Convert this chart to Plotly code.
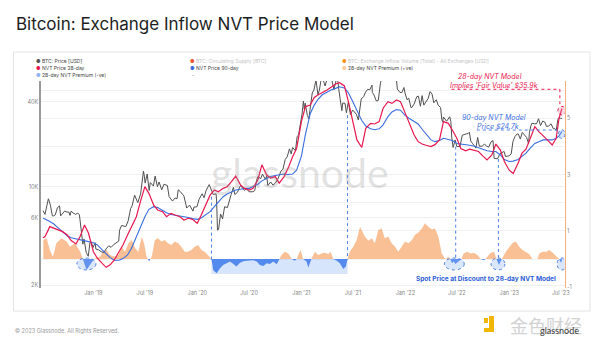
import plotly.graph_objects as go

# ---------------- data ----------------
price_dates = [
    "2018-07-08", "2018-07-15", "2018-07-22", "2018-07-27", "2018-08-03", "2018-08-10", "2018-08-14", "2018-08-20",
    "2018-08-28", "2018-09-04", "2018-09-08", "2018-09-15", "2018-09-22", "2018-09-30", "2018-10-07", "2018-10-11",
    "2018-10-15", "2018-10-22", "2018-10-31", "2018-11-07", "2018-11-13", "2018-11-16", "2018-11-20", "2018-11-25",
    "2018-11-29", "2018-12-07", "2018-12-14", "2018-12-20", "2018-12-24", "2018-12-31",
    "2019-01-07", "2019-01-10", "2019-01-20", "2019-01-28", "2019-02-07", "2019-02-14", "2019-02-24", "2019-03-04",
    "2019-03-15", "2019-03-31", "2019-04-03", "2019-04-10", "2019-04-25", "2019-05-03", "2019-05-12", "2019-05-17",
    "2019-05-26", "2019-06-06", "2019-06-16", "2019-06-22", "2019-06-26", "2019-06-29", "2019-07-02", "2019-07-09",
    "2019-07-16", "2019-07-20", "2019-07-31", "2019-08-06", "2019-08-14", "2019-08-20", "2019-08-29", "2019-09-06",
    "2019-09-18", "2019-09-24", "2019-10-06", "2019-10-15", "2019-10-22", "2019-10-26", "2019-11-03", "2019-11-15",
    "2019-11-22", "2019-11-25", "2019-12-05", "2019-12-17", "2019-12-20", "2019-12-31",
    "2020-01-07", "2020-01-18", "2020-01-25", "2020-02-01", "2020-02-12", "2020-02-19", "2020-02-26", "2020-03-07",
    "2020-03-09", "2020-03-12", "2020-03-16", "2020-03-23", "2020-03-30", "2020-04-06", "2020-04-16", "2020-04-29",
    "2020-05-07", "2020-05-12", "2020-05-21", "2020-06-01", "2020-06-15", "2020-06-22", "2020-07-01", "2020-07-15",
    "2020-07-21", "2020-07-27", "2020-08-01", "2020-08-11", "2020-08-17", "2020-08-27", "2020-09-01", "2020-09-05",
    "2020-09-15", "2020-09-23", "2020-10-01", "2020-10-10", "2020-10-21", "2020-10-28", "2020-11-05", "2020-11-12",
    "2020-11-20", "2020-11-26", "2020-12-01", "2020-12-11", "2020-12-17", "2020-12-22", "2020-12-27", "2020-12-31",
    "2021-01-03", "2021-01-08", "2021-01-11", "2021-01-14", "2021-01-22", "2021-01-27", "2021-02-03", "2021-02-08",
    "2021-02-14", "2021-02-21", "2021-02-28", "2021-03-05", "2021-03-13", "2021-03-18", "2021-03-25", "2021-04-02",
    "2021-04-13", "2021-04-18", "2021-04-25", "2021-05-03", "2021-05-08", "2021-05-12", "2021-05-19", "2021-05-23",
    "2021-05-26", "2021-06-03", "2021-06-08", "2021-06-15", "2021-06-22", "2021-06-30", "2021-07-06", "2021-07-13",
    "2021-07-20", "2021-07-26", "2021-07-30", "2021-08-08", "2021-08-14", "2021-08-22", "2021-08-29", "2021-09-06",
    "2021-09-07", "2021-09-13", "2021-09-21", "2021-09-28", "2021-10-06", "2021-10-15", "2021-10-20", "2021-10-27",
    "2021-11-02", "2021-11-08", "2021-11-10", "2021-11-16", "2021-11-18", "2021-11-24", "2021-12-01", "2021-12-04",
    "2021-12-13", "2021-12-20", "2021-12-27", "2021-12-31",
    "2022-01-07", "2022-01-13", "2022-01-21", "2022-01-24", "2022-02-01", "2022-02-10", "2022-02-16", "2022-02-23",
    "2022-03-01", "2022-03-07", "2022-03-14", "2022-03-22", "2022-03-29", "2022-04-05", "2022-04-11", "2022-04-20",
    "2022-04-26", "2022-05-05", "2022-05-09", "2022-05-12", "2022-05-15", "2022-05-26", "2022-06-06", "2022-06-10",
    "2022-06-13", "2022-06-18", "2022-06-25", "2022-07-01", "2022-07-12", "2022-07-20", "2022-07-30", "2022-08-10",
    "2022-08-14", "2022-08-19", "2022-08-26", "2022-09-06", "2022-09-12", "2022-09-18", "2022-09-28", "2022-10-06",
    "2022-10-13", "2022-10-21", "2022-10-29", "2022-11-05", "2022-11-09", "2022-11-21", "2022-11-30", "2022-12-14",
    "2022-12-19", "2022-12-31",
    "2023-01-08", "2023-01-14", "2023-01-21", "2023-01-29", "2023-02-02", "2023-02-09", "2023-02-16", "2023-02-24",
    "2023-03-03", "2023-03-10", "2023-03-13", "2023-03-18", "2023-03-22", "2023-03-30", "2023-04-07", "2023-04-14",
    "2023-04-21", "2023-04-29", "2023-05-06", "2023-05-12", "2023-05-20", "2023-05-28", "2023-06-05", "2023-06-10",
    "2023-06-15", "2023-06-21", "2023-06-23", "2023-07-01", "2023-07-05",
]
price_usd = [
    6750, 6350, 7400, 8200, 7400, 6200, 6200, 6300,
    7100, 7300, 6200, 6500, 6700, 6600, 6600, 6250,
    6700, 6500, 6350, 6500, 6300, 5600, 4500, 3900,
    4250, 3400, 3200, 4000, 4050, 3700,
    4000, 3600, 3550, 3450, 3400, 3600, 3800, 3700,
    3900, 4100, 4900, 5300, 5200, 5700, 7000, 7300,
    8700, 7700, 8900, 10700, 12900, 11900, 10600, 12300,
    9400, 10700, 10100, 11900, 10000, 10800, 9500, 10400,
    10200, 8500, 7900, 8300, 8200, 9500, 9200, 8600,
    7300, 7050, 7400, 6700, 7150, 7200,
    8100, 8900, 8350, 9400, 10350, 9600, 8800, 8900,
    7900, 4900, 5000, 6400, 5900, 7200, 7100, 8800,
    9900, 8800, 9100, 10200, 9400, 9700, 9200, 9200,
    9400, 11000, 11800, 11400, 12300, 11300, 11900, 10200,
    10800, 10250, 10600, 11300, 12900, 13300, 15600, 16300,
    18600, 17100, 19000, 18000, 22800, 23300, 26300, 29000,
    32800, 40600, 35500, 39200, 32000, 30400, 37600, 46400,
    48700, 57500, 45200, 48500, 61200, 58000, 52000, 59000,
    63500, 56200, 49000, 57000, 58800, 49500, 37000, 34700,
    39300, 39200, 33500, 40200, 32500, 35000, 34000, 32700,
    29800, 37300, 42000, 43800, 47000, 49300, 48800, 52700,
    46800, 44900, 40700, 41000, 55300, 61600, 65900, 58400,
    63200, 67500, 65000, 60300, 56900, 57100, 57200, 49400,
    46800, 46700, 50700, 46300,
    41500, 42600, 36400, 36600, 38700, 43600, 44000, 37300,
    44400, 38000, 39600, 42300, 47400, 45500, 39500, 41500,
    38100, 36500, 30100, 28900, 31300, 29200, 31400, 29000,
    22500, 19000, 21500, 19300, 19300, 23200, 23600, 23900,
    24400, 21100, 20200, 18800, 22400, 19400, 19400, 20100,
    19400, 19100, 20800, 21300, 15900, 15800, 17200, 17800,
    16400, 16550,
    17100, 20900, 22700, 23700, 23700, 21800, 24300, 23200,
    22400, 20200, 24200, 27000, 28300, 28000, 28000, 30400,
    27200, 29300, 28800, 26800, 27000, 28000, 25800, 25900,
    25100, 30000, 30700, 30600, 30500,
]

# semi-monthly sampling of the two NVT price models
nvt_dates = [
    "2018-07-08", "2018-07-15", "2018-08-01", "2018-08-15", "2018-09-01", "2018-09-15",
    "2018-10-01", "2018-10-15", "2018-11-01", "2018-11-15", "2018-12-01", "2018-12-15",
    "2019-01-01", "2019-01-15", "2019-02-01", "2019-02-15", "2019-03-01", "2019-03-15",
    "2019-04-01", "2019-04-15", "2019-05-01", "2019-05-15", "2019-06-01", "2019-06-15",
    "2019-07-01", "2019-07-15", "2019-08-01", "2019-08-15", "2019-09-01", "2019-09-15",
    "2019-10-01", "2019-10-15", "2019-11-01", "2019-11-15", "2019-12-01", "2019-12-15",
    "2020-01-01", "2020-01-15", "2020-02-01", "2020-02-15", "2020-03-01", "2020-03-15",
    "2020-04-01", "2020-04-15", "2020-05-01", "2020-05-15", "2020-06-01", "2020-06-15",
    "2020-07-01", "2020-07-15", "2020-08-01", "2020-08-15", "2020-09-01", "2020-09-15",
    "2020-10-01", "2020-10-15", "2020-11-01", "2020-11-15", "2020-12-01", "2020-12-15",
    "2021-01-01", "2021-01-15", "2021-02-01", "2021-02-15", "2021-03-01", "2021-03-15",
    "2021-04-01", "2021-04-15", "2021-05-01", "2021-05-15", "2021-06-01", "2021-06-15",
    "2021-07-01", "2021-07-15", "2021-08-01", "2021-08-15", "2021-09-01", "2021-09-15",
    "2021-10-01", "2021-10-15", "2021-11-01", "2021-11-15", "2021-12-01", "2021-12-15",
    "2022-01-01", "2022-01-15", "2022-02-01", "2022-02-15", "2022-03-01", "2022-03-15",
    "2022-04-01", "2022-04-15", "2022-05-01", "2022-05-15", "2022-06-01", "2022-06-15",
    "2022-07-01", "2022-07-15", "2022-08-01", "2022-08-15", "2022-09-01", "2022-09-15",
    "2022-10-01", "2022-10-15", "2022-11-01", "2022-11-15", "2022-12-01", "2022-12-15",
    "2023-01-01", "2023-01-15", "2023-02-01", "2023-02-15", "2023-03-01", "2023-03-15",
    "2023-04-01", "2023-04-15", "2023-05-01", "2023-05-15", "2023-06-01", "2023-06-15",
    "2023-06-25", "2023-07-05",
]
nvt28_usd = [
    4340, 4410, 5200, 5060, 4920, 4790,
    4530, 4140, 3920, 4410, 5340, 4660,
    3450, 3100, 2850, 2670, 2780, 3000,
    3450, 3850, 4530, 5200, 6120, 7800,
    10000, 8970, 7400, 6830, 6640, 6120,
    6460, 6290, 6120, 5800, 5960, 5860,
    5490, 6290, 7400, 8700, 9470, 9200,
    9730, 10000, 10900, 11900, 10300, 9730,
    9470, 9730, 11200, 14300, 12100, 11500,
    11800, 10600, 11800, 13500, 16300, 18700,
    29000, 37100, 38100, 43100, 45100, 46600,
    48700, 50900, 53700, 54900, 52000, 40200,
    29000, 21500, 19000, 26000, 28200, 27900,
    29000, 36100, 40200, 39100, 41300, 40200,
    33200, 28200, 23300, 20900, 20100, 19700,
    19300, 19900, 21500, 29000, 28200, 25300,
    22100, 18700, 18000, 18500, 18000, 17800,
    16500, 15500, 16800, 20100, 18200, 15100,
    13100, 12400, 14700, 17300, 18500, 22100,
    26700, 24600, 22700, 21500, 19800, 22100,
    30600, 35900,
]
nvt90_usd = [
    5960, 5900, 5650, 5430, 5060, 4790,
    4480, 4340, 4250, 4180, 4120, 4070,
    4000, 3850, 3550, 3320, 3130, 3000,
    3000, 3080, 3270, 3650, 4410, 5200,
    6120, 6900, 7210, 7100, 6750, 6530,
    6350, 6290, 6220, 6120, 6030, 5930,
    5860, 5990, 6290, 6640, 7210, 7800,
    8490, 8870, 9210, 9470, 9600, 9730,
    9730, 10000, 10400, 11000, 11500, 11800,
    12000, 12200, 12300, 12200, 12300, 13100,
    16500, 23500, 33000, 38000, 42000, 45000,
    47300, 48700, 50000, 51300, 50300, 46500,
    40000, 34500, 29500, 27000, 25800, 25400,
    25800, 27500, 31500, 34000, 35300, 35000,
    32000, 30500, 29200, 27900, 25600, 23700,
    21500, 20900, 21300, 22100, 21700, 21300,
    20300, 20100, 20100, 19700, 19400, 18900,
    18500, 18000, 17800, 17800, 16800, 15600,
    15100, 15200, 15600, 16500, 17300, 18700,
    20300, 20900, 21500, 21500, 21500, 22100,
    23000, 24700,
]

premium_dates = [
    "2018-07-09", "2018-07-21", "2018-08-01", "2018-08-12", "2018-08-24", "2018-09-11", "2018-09-29", "2018-10-11",
    "2018-10-28", "2018-11-16", "2018-11-25", "2018-12-08", "2018-12-20", "2019-01-03", "2019-01-24", "2019-02-04",
    "2019-02-17", "2019-02-28", "2019-03-18", "2019-03-30", "2019-04-11", "2019-04-22", "2019-05-04", "2019-05-16",
    "2019-05-28", "2019-06-08", "2019-06-20", "2019-06-28", "2019-07-07", "2019-07-12", "2019-07-16", "2019-07-20",
    "2019-07-25", "2019-08-05", "2019-08-16", "2019-08-28", "2019-09-09", "2019-09-20", "2019-10-02", "2019-10-14",
    "2019-10-26", "2019-11-06", "2019-11-18", "2019-11-30", "2019-12-11", "2019-12-23", "2020-01-04", "2020-01-16",
    "2020-01-27", "2020-02-08", "2020-02-20", "2020-02-26", "2020-03-09", "2020-03-21", "2020-04-01", "2020-04-13",
    "2020-04-25", "2020-05-07", "2020-05-18", "2020-05-30", "2020-06-11", "2020-06-23", "2020-07-04", "2020-07-16",
    "2020-07-28", "2020-08-08", "2020-08-20", "2020-09-01", "2020-09-12", "2020-09-24", "2020-10-06", "2020-10-16",
    "2020-10-23", "2020-11-04", "2020-11-16", "2020-11-28", "2020-12-09", "2020-12-15", "2020-12-21", "2020-12-29",
    "2021-01-07", "2021-01-19", "2021-01-25", "2021-02-05", "2021-02-17", "2021-03-01", "2021-03-13", "2021-03-24",
    "2021-04-05", "2021-04-13", "2021-04-23", "2021-05-04", "2021-05-16", "2021-05-28", "2021-06-06", "2021-06-12",
    "2021-06-20", "2021-07-02", "2021-07-14", "2021-07-26", "2021-07-31", "2021-08-12", "2021-08-24", "2021-09-05",
    "2021-09-16", "2021-09-28", "2021-10-10", "2021-10-21", "2021-11-02", "2021-11-14", "2021-11-26", "2021-12-07",
    "2021-12-19", "2021-12-31", "2022-01-12", "2022-01-24", "2022-02-04", "2022-02-16", "2022-02-28", "2022-03-11",
    "2022-03-23", "2022-04-04", "2022-04-15", "2022-04-27", "2022-05-09", "2022-05-21", "2022-06-02", "2022-06-08",
    "2022-06-14", "2022-06-20", "2022-06-26", "2022-07-07", "2022-07-17", "2022-07-25", "2022-08-06", "2022-08-18",
    "2022-08-30", "2022-09-11", "2022-09-23", "2022-10-04", "2022-10-10", "2022-10-16", "2022-10-28", "2022-11-09",
    "2022-11-17", "2022-11-26", "2022-12-06", "2022-12-20", "2023-01-01", "2023-01-12", "2023-01-24", "2023-02-05",
    "2023-02-17", "2023-02-28", "2023-03-12", "2023-03-24", "2023-04-05", "2023-04-10", "2023-04-17", "2023-04-29",
    "2023-05-11", "2023-05-22", "2023-06-03", "2023-06-15", "2023-06-25", "2023-07-02", "2023-07-05",
]
premium_28d = [
    0.68, 0.74, 0.32, 0.08, 0.56, 0.74, 0.62, 0.44,
    0.56, 0.26, 0.0, -0.39, -0.21, 0.0, 0.08, 0.26,
    0.32, 0.14, 0.08, 0.14, 0.44, 0.26, 0.56, 0.68,
    0.38, 0.26, 0.80, 0.56, 0.08, 0.0, -0.09, 0.0,
    0.08, 0.68, 0.74, 0.62, 0.68, 0.56, 0.50, 0.62,
    0.56, 0.44, 0.26, 0.26, 0.32, 0.44, 0.50, 0.32,
    0.26, 0.14, 0.0, -0.39, -0.51, -0.33, -0.21, -0.15,
    -0.09, -0.18, -0.27, -0.13, -0.08, -0.06, -0.05, -0.04,
    -0.09, -0.21, -0.25, -0.15, -0.18, -0.09, -0.19, 0.0,
    0.14, 0.26, 0.20, 0.0, -0.06, 0.0, 0.14, 0.32,
    0.0, -0.09, -0.30, 0.0, 0.26, 0.14, 0.20, 0.22,
    0.18, 0.26, 0.0, -0.05, -0.15, -0.36, -0.27, 0.0,
    0.26, 0.44, 0.68, 1.15, 1.03, 0.80, 0.65, 0.74,
    0.56, 1.03, 1.09, 0.74, 0.80, 0.56, 0.44, 0.26,
    0.44, 0.62, 0.56, 0.68, 0.86, 0.94, 1.09, 1.27,
    1.15, 1.05, 1.09, 0.80, 0.20, 0.0, 0.08, 0.0,
    -0.15, -0.09, -0.18, -0.09, 0.0, 0.20, 0.26, 0.20,
    0.22, 0.14, 0.0, -0.04, 0.0, 0.08, 0.22, 0.26,
    0.0, -0.21, 0.0, 0.26, 0.44, 0.56, 0.62, 0.44,
    0.32, 0.26, 0.18, 0.0, -0.01, 0.0, 0.20, 0.26,
    0.26, 0.32, 0.22, 0.08, 0.0, -0.13, -0.06,
]

x_tick_vals = ["2019-01-01", "2019-07-01", "2020-01-01", "2020-07-01", "2021-01-01",
               "2021-07-01", "2022-01-01", "2022-07-01", "2023-01-01", "2023-07-01"]
x_tick_text = ["Jan '19", "Jul '19", "Jan '20", "Jul '20", "Jan '21",
               "Jul '21", "Jan '22", "Jul '22", "Jan '23", "Jul '23"]
price_tick_vals = [2000, 6000, 10000, 40000]
price_tick_text = ["2K", "6K", "10K", "40K"]
prem_tick_vals = [-1, 0, 1, 2, 3, 4, 5, 6]
prem_tick_text = ["-1", "", "1", "", "3", "", "5", ""]

# ---------------- styling ----------------
W, H = 600, 346
L, R, T, B = 41, 565, 81, 288          # plot area in pixels
FONT = "Inter"
C_PRICE = "#505050"
C_28 = "#e8184f"
C_90 = "#3a6de0"
C_POS = "rgba(247,168,108,0.72)"
C_NEG = "rgba(66,124,235,0.88)"
C_DOT = "#4f82e6"


def PX(x):
    return (x - L) / (R - L)


def PY(y):
    return (B - y) / (B - T)


prem_pos = [max(v, 0.0) for v in premium_28d]
prem_neg = [min(v, 0.0) for v in premium_28d]

fig = go.Figure()
fig.add_trace(go.Scatter(x=premium_dates, y=prem_pos, yaxis="y", mode="lines",
                         line=dict(width=0), fill="tozeroy", fillcolor=C_POS,
                         name="28-day NVT Premium (+ve)"))
fig.add_trace(go.Scatter(x=premium_dates, y=prem_neg, yaxis="y", mode="lines",
                         line=dict(width=0), fill="tozeroy", fillcolor=C_NEG,
                         name="28-day NVT Premium (-ve)"))
fig.add_trace(go.Scatter(x=price_dates, y=price_usd, yaxis="y2", mode="lines",
                         line=dict(color=C_PRICE, width=1), name="BTC: Price [USD]"))
fig.add_trace(go.Scatter(x=nvt_dates, y=nvt90_usd, yaxis="y2", mode="lines",
                         line=dict(color=C_90, width=1.1), name="NVT Price 90-day"))
fig.add_trace(go.Scatter(x=nvt_dates, y=nvt28_usd, yaxis="y2", mode="lines",
                         line=dict(color=C_28, width=1.2), name="NVT Price 28-day"))

shapes = []
# card frame
shapes.append(dict(type="rect", xref="paper", yref="paper", x0=PX(13.5), x1=PX(590),
                   y0=PY(311), y1=PY(52), line=dict(color="#e4e4e4", width=1),
                   fillcolor="rgba(0,0,0,0)", layer="below"))
# discount region box
shapes.append(dict(type="rect", xref="x", yref="y", x0="2020-02-20", x1="2021-06-12",
                   y0=-0.534, y1=0, line=dict(width=0),
                   fillcolor="rgba(120,165,245,0.30)", layer="between"))
# vertical dotted guides
for xd, ytop, ybot in [("2020-02-20", 2.22, -0.03), ("2021-06-12", 5.12, -0.03),
                       ("2022-06-27", 4.0, 0.04), ("2022-11-24", 3.56, 0.04)]:
    shapes.append(dict(type="line", xref="x", yref="y", x0=xd, x1=xd, y0=ytop, y1=ybot,
                       line=dict(color=C_DOT, width=1, dash="dot")))
# discount circles
for x0, x1 in [("2018-11-04", "2019-01-10"), ("2022-05-18", "2022-07-27"),
               ("2022-10-29", "2022-12-17"), ("2023-06-18", "2023-07-23")]:
    shapes.append(dict(type="circle", xref="x", yref="y", x0=x0, x1=x1, y0=-0.39, y1=0.036,
                       line=dict(color=C_DOT, width=1, dash="dot"),
                       fillcolor="rgba(120,165,245,0.28)"))
# pink guide to 28-day fair value
shapes.append(dict(type="line", xref="x", yref="y", x0="2022-06-12", x1="2023-06-28",
                   y0=6.04, y1=6.04, line=dict(color=C_28, width=1, dash="dot")))
shapes.append(dict(type="line", xref="x", yref="y", x0="2023-06-28", x1="2023-06-28",
                   y0=6.04, y1=5.40, line=dict(color=C_28, width=1, dash="dot")))
shapes.append(dict(type="circle", xref="x", yref="y", x0="2023-06-21", x1="2023-07-19",
                   y0=5.13, y1=5.43, line=dict(color=C_28, width=1, dash="dot"),
                   fillcolor="rgba(240,110,150,0.28)"))
# blue guide to 90-day price
shapes.append(dict(type="line", xref="x", yref="y", x0="2022-09-09", x1="2023-06-21",
                   y0=4.59, y1=4.59, line=dict(color=C_DOT, width=1, dash="dot")))
shapes.append(dict(type="circle", xref="x", yref="y", x0="2023-06-23", x1="2023-07-16",
                   y0=4.29, y1=4.60, line=dict(color=C_DOT, width=1, dash="dot"),
                   fillcolor="rgba(120,165,245,0.30)"))
# small yellow logo (bottom right)
for x0, y0, x1, y1 in [(484, 318, 488, 323), (489, 316, 494, 332), (484, 328, 494, 332)]:
    shapes.append(dict(type="rect", xref="paper", yref="paper", x0=PX(x0), x1=PX(x1),
                       y0=PY(y1), y1=PY(y0), line=dict(width=0), fillcolor="#f2b705"))

ann = []


def add_text(text, x, y, size, color, xanchor="center", family=FONT, **kw):
    ann.append(dict(text=text, x=PX(x), y=PY(y), xref="paper", yref="paper",
                    xanchor=xanchor, yanchor="middle", showarrow=False,
                    font=dict(family=family, size=size, color=color), **kw))


# title and footer
add_text("Bitcoin: Exchange Inflow NVT Price Model", 13.5, 23.5, 17, "#1e1e1e", xanchor="left")
add_text("© 2023 Glassnode. All Rights Reserved.", 13, 330, 5.5, "#9a9a9a", xanchor="left")

# legend
legend_items = [
    (33.5, 61, "#555555", "BTC: Price [USD]", "#444444"),
    (187.5, 61, "#e8562a", "BTC: Circulating Supply [BTC]", "#c4c4c4"),
    (339.5, 61, "#f7931a", "BTC: Exchange Inflow Volume (Total) - All Exchanges [USD]", "#c4c4c4"),
    (33.5, 68, C_28, "NVT Price 28-day", "#444444"),
    (187.5, 68, C_90, "NVT Price 90-day", "#444444"),
    (339.5, 68, "#f9c89b", "28-day NVT Premium (+ve)", "#444444"),
    (33.5, 75, "#8fb3f0", "28-day NVT Premium (-ve)", "#444444"),
]
for x, y, dot, label, tc in legend_items:
    add_text(f"<span style='color:{dot}'>●</span> <span style='color:{tc}'>{label}</span>",
             x, y, 5, tc, xanchor="left")
add_text("-", 193, 75, 5, "#666666")

# watermark
add_text("glassnode", 300, 172, 41, "rgba(140,140,140,0.26)", family="Lato")

# callouts
add_text("<i>28-day NVT Model</i>", 489.5, 76.7, 7, C_28)
add_text("<i>Implies 'Fair Value' $35.9k</i>", 494, 85, 7, C_28)
add_text("<i>90-day NVT Model</i>", 494, 117.7, 7, C_90)
add_text("<i>Price $24.7k</i>", 498, 126, 7, C_90)
add_text("<b>Spot Price at Discount to 28-day NVT Model</b>", 486, 279, 6.5, "#2a5bd7")

# bottom-right watermark logo text
add_text("金色财经", 545.5, 325, 18, "#d2d2d2", family="Noto Sans CJK SC")
add_text("glassnode", 559, 330.5, 9, "#3a3a3a", family="Lato")

tickfont = dict(family=FONT, size=5.5, color="#858585")
fig.update_layout(
    width=W, height=H,
    margin=dict(l=L, r=W - R, t=T, b=H - B, pad=0),
    paper_bgcolor="white", plot_bgcolor="white",
    showlegend=False,
    xaxis=dict(type="date", range=["2018-07-01", "2023-07-16"], tickvals=x_tick_vals,
               ticktext=x_tick_text, showgrid=False, zeroline=False, showline=False,
               ticks="", tickfont=tickfont),
    yaxis=dict(side="right", range=[-1.032, 6.335], tickvals=prem_tick_vals,
               ticktext=prem_tick_text, showgrid=True, gridcolor="#f1f1f1", zeroline=False,
               showline=True, linecolor="#f8b07a", linewidth=1, ticks="", tickfont=tickfont),
    yaxis2=dict(type="log", overlaying="y", side="left", range=[3.2797, 4.7513],
                tickvals=price_tick_vals, ticktext=price_tick_text, showgrid=True,
                gridcolor="#efefef", zeroline=False, showline=True, linecolor="#9a9a9a",
                linewidth=1.5, ticks="", tickfont=tickfont),
    shapes=shapes,
    annotations=ann,
)

fig.write_html("out.html")
